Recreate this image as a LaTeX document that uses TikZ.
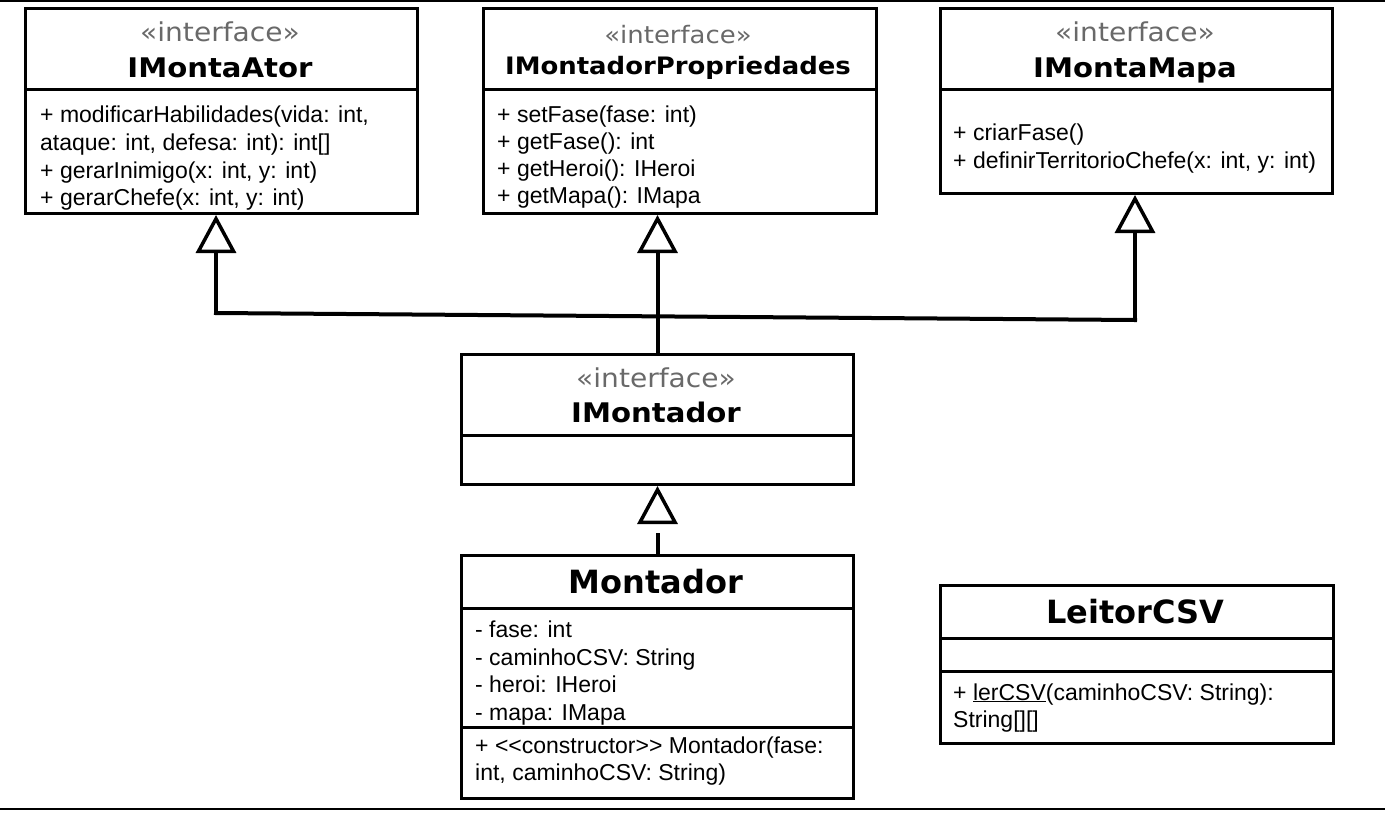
\documentclass[tikz,border=0pt]{standalone}
\usepackage{fontspec}
\setmainfont{Liberation Sans}[Ligatures=TeXOff]
\newfontfamily\stfont[FakeStretch=1.08]{DejaVu Sans}
\newfontfamily\dvfont{DejaVu Sans}
\usetikzlibrary{arrows.meta}
\definecolor{stereocol}{RGB}{105,105,105}
\tikzset{
  umlbox/.style={draw, line width=3pt, rectangle, inner sep=0pt, anchor=north west},
  divline/.style={line width=3pt},
  body/.style={anchor=base west, inner sep=0pt, font=\fontsize{23}{27}\selectfont},
  stereo/.style={anchor=base, inner sep=0pt, text=stereocol, font=\stfont\fontsize{26}{30}\selectfont},
  ititle/.style={anchor=base, inner sep=0pt, font=\stfont\bfseries\fontsize{27}{32}\selectfont},
  ctitle/.style={anchor=base, inner sep=0pt, font=\dvfont\bfseries\fontsize{32}{38}\selectfont},
  gentip/.style={-{Triangle[open, length=38pt, width=40pt, line width=3.5pt]}},
  conn/.style={line width=4pt},
}
\begin{document}
\begin{tikzpicture}[x=1pt,y=-1pt]
\useasboundingbox (0,0) rectangle (1385,812);
\draw[line width=2pt] (0,1) -- (1385,1);
\draw[line width=2pt] (0,809) -- (1385,809);

% IMontaAtor
\node[umlbox, minimum width=392pt, minimum height=205pt] (ator) at (24,7) {};
\draw[divline] (ator.west |- 0,89) -- (ator.east |- 0,89);
\node[stereo] (ator-s) at (220,41) {«interface»};
\node[ititle] (ator-t) at (220,77) {IMontaAtor};
\node[body] (ator-1) at (40,122) {+ modificarHabilidades(vida: int,};
\node[body] (ator-2) at (40,150) {ataque: int, defesa: int): int[]};
\node[body] (ator-3) at (40,178) {+ gerarInimigo(x: int, y: int)};
\node[body] (ator-4) at (40,205) {+ gerarChefe(x: int, y: int)};

% IMontadorPropriedades
\node[umlbox, minimum width=393pt, minimum height=205pt] (prop) at (482,7) {};
\draw[divline] (prop.west |- 0,89) -- (prop.east |- 0,89);
\node[stereo, font=\stfont\fontsize{24}{28}\selectfont] (prop-s) at (678,43) {«interface»};
\node[ititle, font=\stfont\bfseries\fontsize{24}{28}\selectfont] (prop-t) at (678,74) {IMontadorPropriedades};
\node[body] (prop-1) at (497,122) {+ setFase(fase: int)};
\node[body] (prop-2) at (497,149) {+ getFase(): int};
\node[body] (prop-3) at (497,176) {+ getHeroi(): IHeroi};
\node[body] (prop-4) at (497,203) {+ getMapa(): IMapa};

% IMontaMapa
\node[umlbox, minimum width=392pt, minimum height=185pt] (mapa) at (939,7) {};
\draw[divline] (mapa.west |- 0,89) -- (mapa.east |- 0,89);
\node[stereo] (mapa-s) at (1135,41) {«interface»};
\node[ititle] (mapa-t) at (1135,77) {IMontaMapa};
\node[body] (mapa-1) at (953,140) {+ criarFase()};
\node[body] (mapa-2) at (953,168) {+ definirTerritorioChefe(x: int, y: int)};

% IMontador
\node[umlbox, minimum width=392pt, minimum height=130pt] (imont) at (460,353) {};
\draw[divline] (imont.west |- 0,435) -- (imont.east |- 0,435);
\node[stereo] (imont-s) at (656,387) {«interface»};
\node[ititle] (imont-t) at (656,422) {IMontador};

% Montador
\node[umlbox, minimum width=392pt, minimum height=243pt] (mont) at (460,554) {};
\draw[divline] (mont.west |- 0,608) -- (mont.east |- 0,608);
\draw[divline] (mont.west |- 0,727) -- (mont.east |- 0,727);
\node[ctitle] (mont-t) at (656,593) {Montador};
\node[body] (mont-1) at (475,637) {- fase: int};
\node[body] (mont-2) at (475,665) {- caminhoCSV: String};
\node[body] (mont-3) at (475,692) {- heroi: IHeroi};
\node[body] (mont-4) at (475,720) {- mapa: IMapa};
\node[body] (mont-5) at (475,753) {+ <<constructor>> Montador(fase:};
\node[body] (mont-6) at (475,780) {int, caminhoCSV: String)};

% LeitorCSV
\node[umlbox, minimum width=393pt, minimum height=158pt] (leitor) at (939,584) {};
\draw[divline] (leitor.west |- 0,638) -- (leitor.east |- 0,638);
\draw[divline] (leitor.west |- 0,671) -- (leitor.east |- 0,671);
\node[ctitle] (leitor-t) at (1135,623) {LeitorCSV};
\node[body] (leitor-1) at (953,700) {+ \underline{lerCSV}(caminhoCSV: String):};
\node[body] (leitor-2) at (953,727) {String[][]};

% connectors
\coordinate (jl) at (216,313);
\coordinate (jr) at (1135,320);
\draw[conn, line cap=rect] (jl) -- (jr);
\draw[conn, gentip] (jl) -- (jl |- ator.south);
\draw[conn, gentip] (jr) -- (jr |- mapa.south);
\draw[conn, gentip] (imont.north) -- (imont.north |- prop.south);
\draw[conn, gentip, dash pattern=on 21pt off 80pt] (mont.north) -- (imont.south);
\end{tikzpicture}
\end{document}
